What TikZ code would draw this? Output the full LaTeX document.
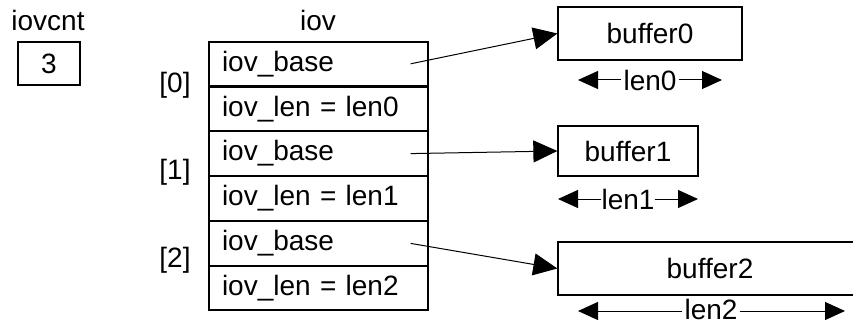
\documentclass[tikz,border=0pt]{standalone}
\usepackage{fontspec}
\setmainfont{Liberation Sans}
\usetikzlibrary{arrows.meta}
\usetikzlibrary{positioning}

\begin{document}
\begin{tikzpicture}[x=1pt,y=-1pt,
  font=\fontsize{28}{32}\selectfont,
  cell/.style={draw,line width=1.3pt,minimum width=219pt,minimum height=43.6pt,text width=193pt,align=left,inner xsep=13pt,inner ysep=0pt},
  buf/.style={draw,line width=1.3pt,minimum height=53pt,inner sep=0pt},
  ptr/.style={line width=1pt,-{Triangle[length=24pt,width=22pt]}},
  dim/.style={line width=1pt,-{Triangle[length=20pt,width=18pt]}},
  dimtext/.style={inner xsep=2pt,inner ysep=1pt}]

\useasboundingbox (0,0) rectangle (853,326);

\node (cntlabel) at (48,20) {iovcnt};
\node[draw,line width=1.3pt,minimum width=62pt,minimum height=43pt] (cnt) at (49,63.5) {3};

\node (iovlabel) at (318,20) {iov};
\node[cell] (base0) at (318.5,63.8) {iov\_base};
\node[cell,below=0pt of base0] (ilen0) {iov\_len = len0};
\node[cell,below=0pt of ilen0] (base1) {iov\_base};
\node[cell,below=0pt of base1] (ilen1) {iov\_len = len1};
\node[cell,below=0pt of ilen1] (base2) {iov\_base};
\node[cell,below=0pt of base2] (ilen2) {iov\_len = len2};

\node (idx0) at (175,85) {[0]};
\node (idx1) at (175,172) {[1]};
\node (idx2) at (175,260) {[2]};

\node[buf,minimum width=184pt] (buf0) at (650,33.5) {buffer0};
\node[buf,minimum width=140pt,minimum height=50pt] (buf1) at (628,151) {buffer1};
\node[buf,minimum width=304pt] (buf2) at (710,268.5) {buffer2};

\draw[ptr] ([xshift=-18pt]base0.east) -- (buf0.west);
\draw[ptr] ([xshift=-18pt]base1.east) -- (buf1.west);
\draw[ptr] ([xshift=-18pt]base2.east) -- (buf2.west);

\node[dimtext] (dim0) at (650,80) {len0};
\coordinate (d0l) at (578,80);
\coordinate (d0r) at (722,80);
\draw[dim] (dim0.west) -- (d0l);
\draw[dim] (dim0.east) -- (d0r);

\node[dimtext,inner xsep=0pt] (dim1) at (628,199) {len1};
\coordinate (d1l) at (558,199);
\coordinate (d1r) at (698,199);
\draw[dim] (dim1.west) -- (d1l);
\draw[dim] (dim1.east) -- (d1r);

\node[dimtext] (dim2) at (711,309) {len2};
\coordinate (d2l) at (578,311);
\coordinate (d2r) at (845,311);
\draw[dim] (dim2.west |- d2l) -- (d2l);
\draw[dim] (dim2.east |- d2r) -- (d2r);
\end{tikzpicture}
\end{document}
